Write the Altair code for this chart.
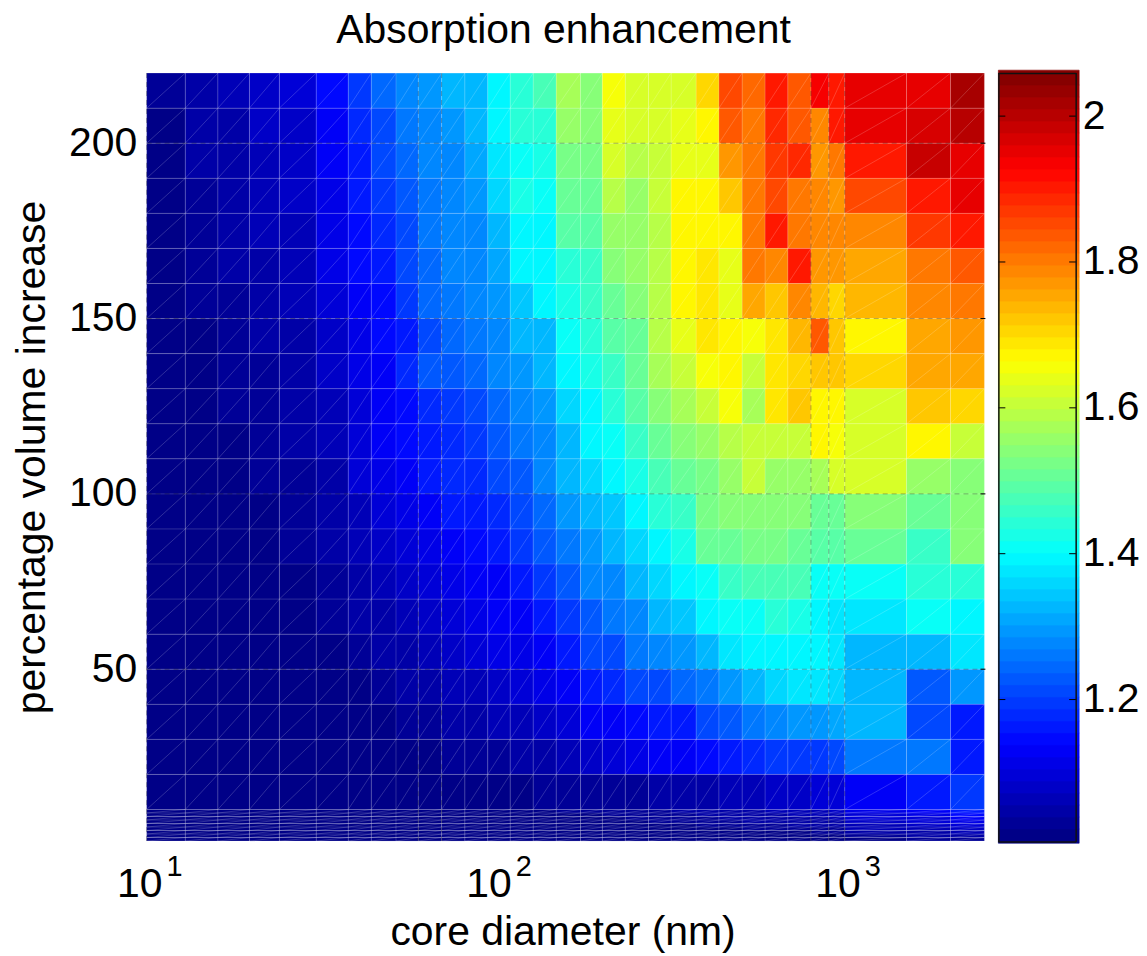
import altair as alt
import pandas as pd

# core diameter (nm) cell edges
x_edges = [10, 12.9, 16, 19.7, 24, 30.6, 37.8, 44, 51.8, 60, 70, 81.6, 94.9, 110, 128, 149, 175, 202, 235, 274,
           318, 375, 436, 508, 591, 687, 800, 900, 1000, 1503, 2009, 2512]
# percentage volume increase cell edges, top to bottom
y_edges = [220, 210, 200, 190, 180, 170, 160, 150, 140, 130, 120, 110, 100, 90, 80, 70, 60, 50, 40, 30, 20, 10,
           9, 8, 7, 6, 5, 4, 3, 2, 1]

values = [
 [1.03,1.05,1.06,1.08,1.09,1.14,1.19,1.24,1.27,1.30,1.32,1.335,1.40,1.45,1.47,1.575,1.535,1.65,1.63,1.63,1.63,1.705,1.86,1.825,1.895,1.845,1.93,1.91,1.96,1.945,2.02],
 [1.02,1.045,1.055,1.075,1.085,1.13,1.18,1.215,1.255,1.285,1.30,1.33,1.385,1.435,1.45,1.555,1.535,1.64,1.615,1.615,1.645,1.665,1.845,1.81,1.885,1.845,1.78,1.91,1.945,1.97,2.0],
 [1.02,1.04,1.055,1.07,1.08,1.125,1.17,1.21,1.24,1.27,1.285,1.31,1.37,1.415,1.43,1.53,1.525,1.615,1.595,1.61,1.64,1.645,1.775,1.80,1.875,1.885,1.765,1.81,1.895,1.99,1.95],
 [1.02,1.035,1.05,1.065,1.075,1.12,1.16,1.19,1.225,1.255,1.27,1.30,1.355,1.42,1.41,1.50,1.505,1.595,1.565,1.605,1.665,1.665,1.72,1.80,1.855,1.81,1.795,1.775,1.855,1.91,1.955],
 [1.015,1.03,1.045,1.06,1.07,1.115,1.15,1.18,1.215,1.255,1.27,1.285,1.335,1.40,1.40,1.485,1.485,1.555,1.555,1.595,1.665,1.665,1.665,1.80,1.91,1.81,1.795,1.795,1.795,1.865,1.91],
 [1.015,1.03,1.04,1.055,1.065,1.105,1.14,1.17,1.21,1.25,1.27,1.285,1.31,1.385,1.385,1.45,1.465,1.545,1.56,1.595,1.665,1.685,1.645,1.81,1.795,1.91,1.765,1.775,1.75,1.81,1.845],
 [1.01,1.025,1.035,1.05,1.06,1.09,1.125,1.15,1.19,1.24,1.255,1.27,1.30,1.345,1.385,1.43,1.455,1.505,1.535,1.595,1.665,1.685,1.645,1.76,1.715,1.78,1.745,1.705,1.735,1.78,1.80],
 [1.01,1.02,1.03,1.045,1.055,1.08,1.115,1.14,1.17,1.215,1.24,1.255,1.285,1.32,1.335,1.415,1.44,1.485,1.515,1.585,1.645,1.695,1.665,1.65,1.695,1.745,1.83,1.715,1.665,1.75,1.765],
 [1.01,1.02,1.03,1.035,1.05,1.075,1.11,1.13,1.18,1.225,1.235,1.24,1.27,1.30,1.33,1.39,1.42,1.465,1.515,1.575,1.61,1.65,1.665,1.60,1.685,1.705,1.72,1.715,1.705,1.755,1.755],
 [1.01,1.02,1.025,1.03,1.045,1.07,1.10,1.125,1.145,1.18,1.20,1.205,1.24,1.27,1.30,1.365,1.40,1.44,1.495,1.545,1.58,1.605,1.65,1.575,1.685,1.72,1.665,1.665,1.63,1.715,1.70],
 [1.01,1.015,1.02,1.03,1.04,1.065,1.09,1.13,1.14,1.17,1.18,1.19,1.225,1.26,1.285,1.335,1.385,1.41,1.465,1.515,1.535,1.55,1.595,1.61,1.61,1.61,1.665,1.65,1.615,1.665,1.605],
 [1.01,1.015,1.02,1.025,1.035,1.05,1.09,1.11,1.13,1.16,1.18,1.185,1.205,1.235,1.27,1.33,1.36,1.385,1.43,1.47,1.515,1.53,1.555,1.61,1.555,1.555,1.575,1.615,1.615,1.565,1.545],
 [1.01,1.012,1.015,1.02,1.03,1.045,1.07,1.09,1.11,1.13,1.16,1.165,1.18,1.215,1.25,1.29,1.335,1.345,1.40,1.44,1.455,1.525,1.535,1.545,1.535,1.535,1.515,1.515,1.545,1.515,1.545],
 [1.008,1.01,1.012,1.018,1.025,1.04,1.06,1.075,1.09,1.11,1.13,1.14,1.16,1.19,1.225,1.265,1.30,1.32,1.365,1.40,1.43,1.505,1.505,1.52,1.525,1.515,1.495,1.495,1.505,1.46,1.535],
 [1.008,1.01,1.012,1.015,1.02,1.03,1.05,1.065,1.08,1.10,1.115,1.13,1.135,1.16,1.19,1.235,1.27,1.285,1.325,1.36,1.40,1.41,1.455,1.47,1.475,1.47,1.41,1.41,1.415,1.44,1.44],
 [1.008,1.008,1.01,1.012,1.016,1.025,1.04,1.05,1.065,1.085,1.10,1.11,1.13,1.135,1.165,1.20,1.235,1.255,1.285,1.32,1.345,1.395,1.41,1.415,1.44,1.42,1.39,1.38,1.37,1.41,1.385],
 [1.006,1.008,1.008,1.01,1.012,1.02,1.03,1.04,1.05,1.07,1.08,1.095,1.105,1.12,1.135,1.17,1.205,1.215,1.255,1.27,1.29,1.335,1.37,1.39,1.40,1.40,1.395,1.375,1.32,1.335,1.37],
 [1.006,1.006,1.008,1.008,1.01,1.015,1.02,1.03,1.04,1.05,1.06,1.07,1.08,1.095,1.11,1.13,1.16,1.18,1.205,1.215,1.24,1.255,1.30,1.32,1.36,1.375,1.375,1.36,1.32,1.235,1.30],
 [1.006,1.006,1.006,1.006,1.008,1.01,1.015,1.02,1.025,1.035,1.04,1.05,1.06,1.07,1.085,1.10,1.125,1.13,1.15,1.17,1.17,1.205,1.235,1.255,1.27,1.29,1.30,1.305,1.32,1.205,1.16],
 [1.006,1.006,1.006,1.006,1.006,1.008,1.01,1.012,1.015,1.02,1.025,1.03,1.035,1.045,1.055,1.07,1.085,1.10,1.105,1.125,1.135,1.15,1.16,1.18,1.195,1.19,1.195,1.205,1.255,1.255,1.16],
 [1.006,1.006,1.006,1.006,1.006,1.006,1.006,1.006,1.008,1.01,1.01,1.012,1.015,1.02,1.025,1.03,1.03,1.03,1.035,1.04,1.045,1.05,1.06,1.065,1.075,1.085,1.09,1.09,1.13,1.16,1.195],
 [1.006,1.006,1.006,1.006,1.006,1.006,1.006,1.008,1.008,1.01,1.01,1.012,1.014,1.016,1.02,1.025,1.025,1.03,1.03,1.035,1.04,1.045,1.05,1.055,1.06,1.065,1.07,1.08,1.11,1.13,1.16],
 [1.006,1.006,1.006,1.006,1.006,1.006,1.006,1.008,1.008,1.008,1.01,1.01,1.012,1.015,1.018,1.02,1.022,1.025,1.028,1.03,1.035,1.04,1.045,1.05,1.055,1.06,1.065,1.07,1.10,1.115,1.14],
 [1.006,1.006,1.006,1.006,1.006,1.006,1.006,1.006,1.008,1.008,1.008,1.01,1.01,1.012,1.015,1.018,1.02,1.022,1.025,1.028,1.03,1.035,1.04,1.045,1.05,1.052,1.055,1.06,1.09,1.10,1.125],
 [1.006,1.006,1.006,1.006,1.006,1.006,1.006,1.006,1.006,1.008,1.008,1.008,1.01,1.01,1.012,1.015,1.018,1.02,1.02,1.025,1.028,1.03,1.035,1.04,1.042,1.045,1.05,1.052,1.08,1.09,1.11],
 [1.006,1.006,1.006,1.006,1.006,1.006,1.006,1.006,1.006,1.006,1.008,1.008,1.008,1.01,1.01,1.012,1.015,1.016,1.018,1.02,1.022,1.025,1.03,1.032,1.035,1.04,1.042,1.045,1.07,1.08,1.095],
 [1.006,1.006,1.006,1.006,1.006,1.006,1.006,1.006,1.006,1.006,1.006,1.008,1.008,1.008,1.01,1.01,1.012,1.012,1.015,1.016,1.018,1.02,1.022,1.025,1.028,1.03,1.032,1.035,1.06,1.07,1.08],
 [1.006,1.006,1.006,1.006,1.006,1.006,1.006,1.006,1.006,1.006,1.006,1.006,1.008,1.008,1.008,1.008,1.01,1.01,1.012,1.012,1.014,1.015,1.016,1.018,1.02,1.022,1.024,1.026,1.045,1.055,1.06],
 [1.006,1.006,1.006,1.006,1.006,1.006,1.006,1.006,1.006,1.006,1.006,1.006,1.006,1.006,1.008,1.008,1.008,1.008,1.01,1.01,1.01,1.012,1.012,1.014,1.015,1.016,1.018,1.018,1.03,1.04,1.045],
 [1.006,1.006,1.006,1.006,1.006,1.006,1.006,1.006,1.006,1.006,1.006,1.006,1.006,1.006,1.006,1.006,1.006,1.006,1.008,1.008,1.008,1.008,1.01,1.01,1.01,1.01,1.012,1.012,1.02,1.025,1.03],
]

x_tick_values = [10, 100, 1000]
x_tick_bases = ["10", "10", "10"]
x_tick_exponents = ["1", "2", "3"]
y_tick_values = [50, 100, 150, 200]
bar_tick_values = [1.2, 1.4, 1.6, 1.8, 2.0]
dashed_x = [10, 60, 70, 800, 900, 1000]
cmin, cmax = 1.006, 2.059
FONT = "Liberation Sans"
FS = 41


def clip01(v):
    return max(0.0, min(1.0, v))


def jet(t):
    r = clip01(min(4 * t - 1.5, -4 * t + 4.5))
    g = clip01(min(4 * t - 0.5, -4 * t + 3.5))
    b = clip01(min(4 * t + 0.5, -4 * t + 2.5))
    return "#%02x%02x%02x" % (round(r * 255), round(g * 255), round(b * 255))


jet_colors = [jet((i + 0.5) / 64) for i in range(64)]

cells = []
for r, row in enumerate(values):
    for c, v in enumerate(row):
        cells.append({"x0": x_edges[c], "x1": x_edges[c + 1], "y0": y_edges[r + 1], "y1": y_edges[r], "v": v})
cells = pd.DataFrame(cells)

xs = alt.Scale(type="log", domain=[10, 2512], nice=False)
ys = alt.Scale(domain=[1, 220], nice=False, zero=False)

x_axis = alt.Axis(values=x_tick_values, labels=False, ticks=False, domain=False, grid=False,
                  title="core diameter (nm)", titleFontSize=FS, titleFontWeight="normal",
                  titleFont=FONT, titleColor="black", titlePadding=72, titleX=417)
y_axis = alt.Axis(values=y_tick_values, ticks=False, domain=False, grid=False, labelFontSize=FS,
                  labelFont=FONT, labelColor="black", labelPadding=10,
                  title="percentage volume increase", titleFontSize=FS,
                  titleFontWeight="normal", titleFont=FONT, titleColor="black", titlePadding=15)

heat = alt.Chart(cells).mark_rect(strokeWidth=0).encode(
    x=alt.X("x0:Q", scale=xs, axis=x_axis),
    x2="x1:Q",
    y=alt.Y("y0:Q", scale=ys, axis=y_axis),
    y2="y1:Q",
    color=alt.Color("v:Q", scale=alt.Scale(type="quantize", domain=[cmin, cmax], range=jet_colors), legend=None),
)

v_mesh = alt.Chart(pd.DataFrame({"x": x_edges})).mark_rule(color="white", opacity=0.18, strokeWidth=1).encode(
    x=alt.X("x:Q", scale=xs, axis=x_axis), y=alt.value(0), y2=alt.value(770))
h_mesh = alt.Chart(pd.DataFrame({"y": y_edges})).mark_rule(color="white", opacity=0.18, strokeWidth=1).encode(
    y=alt.Y("y:Q", scale=ys, axis=y_axis), x=alt.value(0), x2=alt.value(840))
diag = alt.Chart(cells).mark_rule(color="white", opacity=0.3, strokeWidth=0.6).encode(
    x=alt.X("x0:Q", scale=xs, axis=x_axis), x2="x1:Q", y=alt.Y("y0:Q", scale=ys, axis=y_axis), y2="y1:Q")
h_dash = alt.Chart(pd.DataFrame({"y": y_tick_values})).mark_rule(color="black", opacity=0.3, strokeWidth=1, strokeDash=[5, 4]).encode(
    y=alt.Y("y:Q", scale=ys, axis=y_axis), x=alt.value(0), x2=alt.value(840))
v_dash = alt.Chart(pd.DataFrame({"x": dashed_x})).mark_rule(color="black", opacity=0.3, strokeWidth=1, strokeDash=[5, 4]).encode(
    x=alt.X("x:Q", scale=xs, axis=x_axis), y=alt.value(0), y2=alt.value(770))
r_ticks = alt.Chart(pd.DataFrame({"y": y_tick_values})).mark_rule(color="black", strokeWidth=1).encode(
    y=alt.Y("y:Q", scale=ys, axis=y_axis), x=alt.value(836), x2=alt.value(841))

tick_df = pd.DataFrame({"x": x_tick_values, "b": x_tick_bases, "e": x_tick_exponents})
base_text = alt.Chart(tick_df).mark_text(font=FONT, fontSize=FS, align="right", baseline="alphabetic", dx=16, color="black").encode(
    x=alt.X("x:Q", scale=xs, axis=x_axis), y=alt.value(826), text="b:N")
exp_text = alt.Chart(tick_df).mark_text(font=FONT, fontSize=29, align="left", baseline="alphabetic", dx=20, color="black").encode(
    x=alt.X("x:Q", scale=xs, axis=x_axis), y=alt.value(805), text="e:N")

main = alt.layer(heat, h_mesh, v_mesh, diag, h_dash, v_dash, r_ticks, base_text, exp_text).properties(
    width=840, height=770,
    title=alt.TitleParams("Absorption enhancement", fontSize=FS, fontWeight="normal", font=FONT, color="black",
                          anchor="middle", offset=21, dx=-2),
)

# colorbar
step = (cmax - cmin) / 64
bar_rows = []
for i, col in enumerate(jet_colors):
    lo = cmin + i * step
    hi = cmin + (i + 1) * step
    if i == 0:
        lo -= 0.003
    if i == 63:
        hi += 0.004
    bar_rows.append({"lo": lo, "hi": hi, "c": col})
bar_df = pd.DataFrame(bar_rows)
bs = alt.Scale(domain=[cmin, cmax], nice=False, zero=False)
bar_axis = alt.Axis(orient="right", values=bar_tick_values, format=".1~f", ticks=False, domain=False,
                    grid=False, labelFontSize=FS, labelFont=FONT, labelColor="black", labelPadding=6,
                    labelAlign="left", title=None)
bar_rect = alt.Chart(bar_df).mark_rect(strokeWidth=0.6, clip=False).encode(
    y=alt.Y("lo:Q", scale=bs, axis=bar_axis),
    y2="hi:Q",
    x=alt.value(0), x2=alt.value(81),
    color=alt.Color("c:N", scale=None),
    stroke=alt.Stroke("c:N", scale=None),
)
tick_data = pd.DataFrame({"y": bar_tick_values})
tick_l = alt.Chart(tick_data).mark_rule(color="black", strokeWidth=1).encode(
    y=alt.Y("y:Q", scale=bs, axis=bar_axis), x=alt.value(0), x2=alt.value(7))
tick_r = alt.Chart(tick_data).mark_rule(color="black", strokeWidth=1).encode(
    y=alt.Y("y:Q", scale=bs, axis=bar_axis), x=alt.value(71), x2=alt.value(78))
frame = [
    alt.Chart(tick_data.head(1)).mark_rule(color="#111111", strokeWidth=1.5).encode(x=alt.value(0.5), y=alt.value(0), y2=alt.value(771)),
    alt.Chart(tick_data.head(1)).mark_rule(color="#111111", strokeWidth=1.5).encode(x=alt.value(78), y=alt.value(0), y2=alt.value(771)),
    alt.Chart(tick_data.head(1)).mark_rule(color="#111111", strokeWidth=1.5).encode(y=alt.value(0.5), x=alt.value(0), x2=alt.value(78)),
    alt.Chart(tick_data.head(1)).mark_rule(color="#111111", strokeWidth=1.5).encode(y=alt.value(771), x=alt.value(0), x2=alt.value(78)),
]
bar = alt.layer(bar_rect, tick_l, tick_r, *frame).properties(width=78, height=770)

chart = alt.hconcat(main, bar, spacing=11).resolve_scale(color="independent").properties(
    padding={"left": 3, "top": 0, "right": 0, "bottom": 0},
    background="white",
).configure_view(stroke=None)

chart.save("out.html", embed_options={"renderer": "svg", "actions": False})
